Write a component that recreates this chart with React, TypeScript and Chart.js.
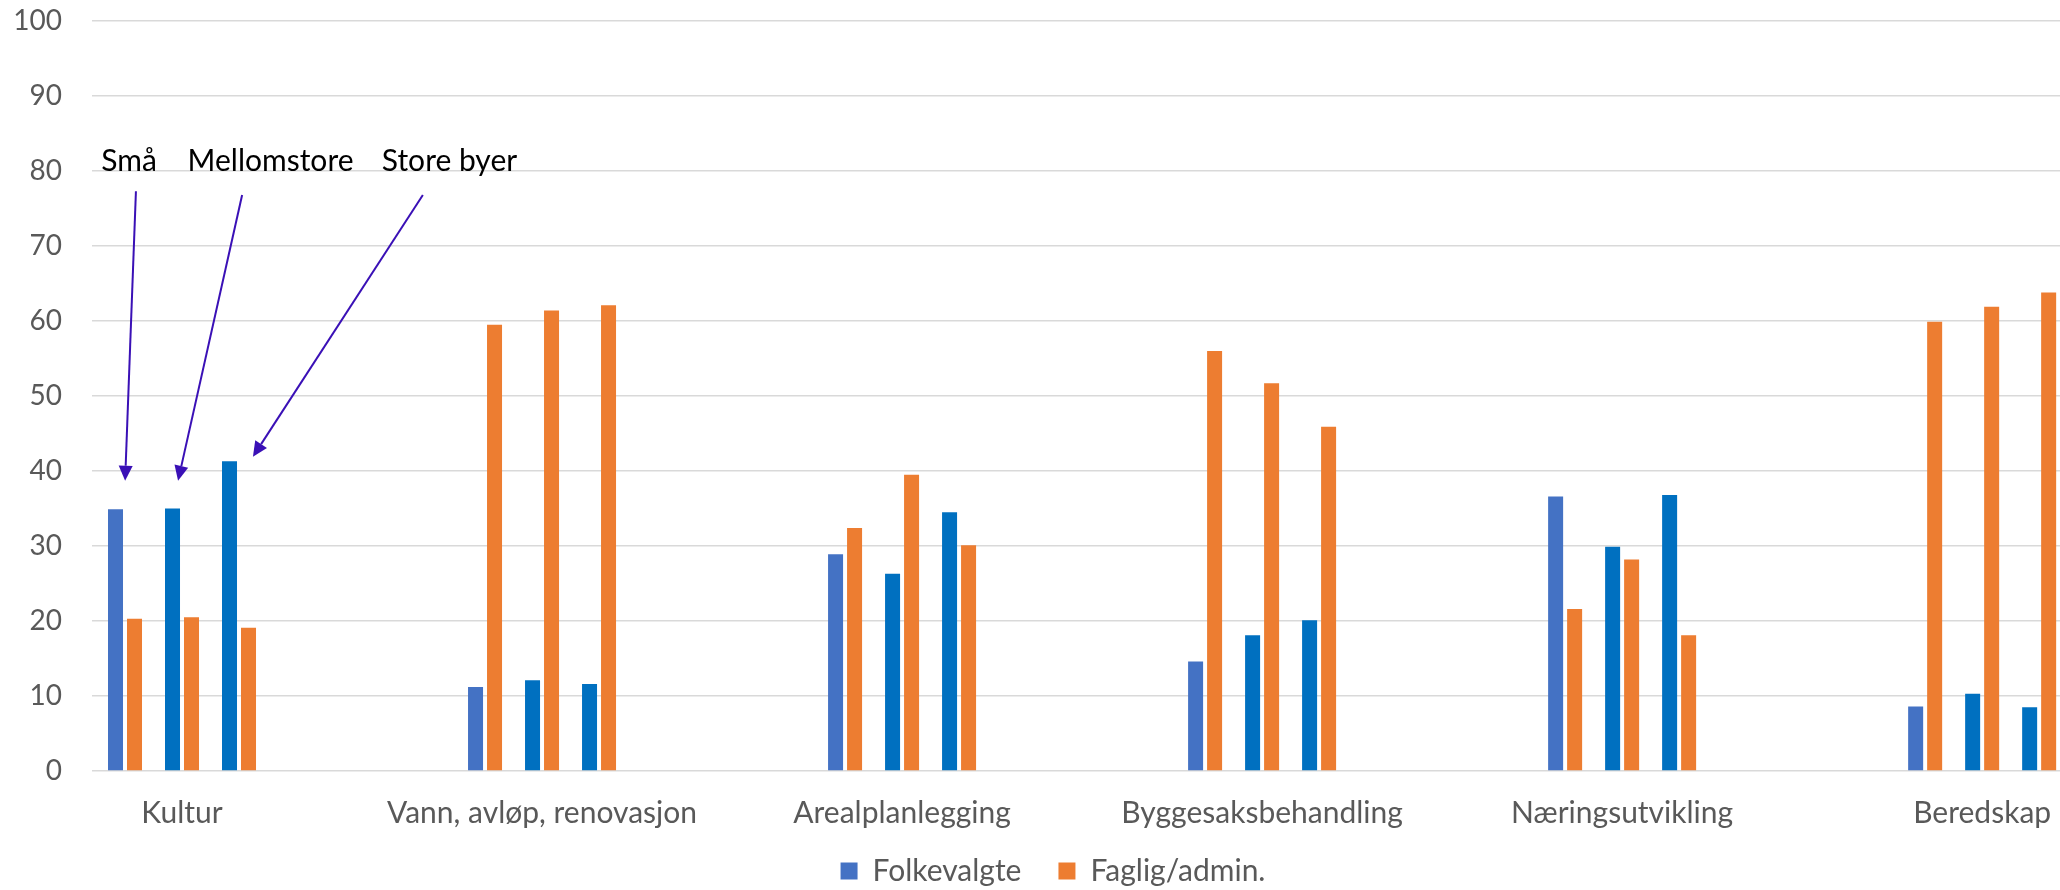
import React, { useEffect, useRef } from 'react';
import { Chart, registerables } from 'chart.js';

Chart.register(...registerables);

// ---- Data ----
const categories = [
  'Kultur',
  'Vann, avløp, renovasjon',
  'Arealplanlegging',
  'Byggesaksbehandling',
  'Næringsutvikling',
  'Beredskap',
];
const smaFolkevalgte = [34.9, 11.2, 28.9, 14.6, 36.6, 8.6];
const smaFaglig = [20.3, 59.5, 32.4, 56.0, 21.6, 59.9];
const mellomFolkevalgte = [35.0, 12.1, 26.3, 18.1, 29.9, 10.3];
const mellomFaglig = [20.5, 61.4, 39.5, 51.7, 28.2, 61.9];
const storeFolkevalgte = [41.3, 11.6, 34.5, 20.1, 36.8, 8.5];
const storeFaglig = [19.1, 62.1, 30.1, 45.9, 18.1, 63.8];
const legendLabels = ['Folkevalgte', 'Faglig/admin.'];
const groupLabels = ['Små', 'Mellomstore', 'Store byer'];

// Annotation anchors in data units (x: category index, y: value)
const annotationTextX = [-0.147, 0.246, 0.743];
const annotationTextY = 80;
const arrowStartX = [-0.128, 0.167, 0.669];
const arrowStartY = [77.3, 76.8, 76.8];
const arrowEndX = [-0.158, -0.011, 0.197];
const arrowEndY = [38.7, 38.7, 41.9];

const BLUE_SMALL = '#4472C4';
const BLUE = '#0070C0';
const ORANGE = '#ED7D31';
const ARROW = '#3A10B6';
const TEXT = '#595959';
const FONT = 'Lato';

const annotationPlugin = {
  id: 'cityAnnotations',
  afterLayout(chart: any) {
    // let the category labels (with descenders) render below the axis box
    const xs = chart.scales.x;
    xs.bottom = xs.bottom + 30;
  },
  afterDatasetsDraw(chart: any) {
    const { ctx } = chart;
    const x = chart.scales.x;
    const y = chart.scales.y;
    ctx.save();
    ctx.font = `30px ${FONT}`;
    ctx.fillStyle = '#000000';
    ctx.textAlign = 'center';
    ctx.textBaseline = 'alphabetic';
    groupLabels.forEach((t, i) => {
      ctx.fillText(t, x.getPixelForValue(annotationTextX[i]), y.getPixelForValue(annotationTextY));
    });
    ctx.strokeStyle = ARROW;
    ctx.fillStyle = ARROW;
    ctx.lineWidth = 2;
    for (let i = 0; i < groupLabels.length; i++) {
      const sx = x.getPixelForValue(arrowStartX[i]);
      const sy = y.getPixelForValue(arrowStartY[i]);
      const ex = x.getPixelForValue(arrowEndX[i]);
      const ey = y.getPixelForValue(arrowEndY[i]);
      const a = Math.atan2(ey - sy, ex - sx);
      const headLen = 15;
      const hw = 7;
      const bx = ex - Math.cos(a) * headLen;
      const by = ey - Math.sin(a) * headLen;
      ctx.beginPath();
      ctx.moveTo(sx, sy);
      ctx.lineTo(bx, by);
      ctx.stroke();
      ctx.beginPath();
      ctx.moveTo(ex, ey);
      ctx.lineTo(bx + Math.sin(a) * hw, by - Math.cos(a) * hw);
      ctx.lineTo(bx - Math.sin(a) * hw, by + Math.cos(a) * hw);
      ctx.closePath();
      ctx.fill();
    }
    ctx.restore();
  },
};

export default function App() {
  const ref = useRef<HTMLCanvasElement>(null);
  useEffect(() => {
    const toPts = (arr: number[]) => arr.map((v, i) => ({ x: i, y: v }));
    const datasets: any[] = [
      { label: legendLabels[0], data: toPts(smaFolkevalgte), backgroundColor: BLUE_SMALL },
      { label: legendLabels[1], data: toPts(smaFaglig), backgroundColor: ORANGE },
      { label: 'spacer-1', data: [], backgroundColor: 'rgba(0,0,0,0)' },
      { label: legendLabels[0] + ' (Mellomstore)', data: toPts(mellomFolkevalgte), backgroundColor: BLUE },
      { label: legendLabels[1] + ' (Mellomstore)', data: toPts(mellomFaglig), backgroundColor: ORANGE },
      { label: 'spacer-2', data: [], backgroundColor: 'rgba(0,0,0,0)' },
      { label: legendLabels[0] + ' (Store byer)', data: toPts(storeFolkevalgte), backgroundColor: BLUE },
      { label: legendLabels[1] + ' (Store byer)', data: toPts(storeFaglig), backgroundColor: ORANGE },
    ];
    const chart = new Chart(ref.current as HTMLCanvasElement, {
      type: 'bar',
      data: { datasets },
      options: {
        animation: false,
        responsive: false,
        devicePixelRatio: 1,
        layout: { padding: 0 },
        datasets: {
          bar: { categoryPercentage: 0.4222, barPercentage: 0.79, borderWidth: 0 },
        },
        scales: {
          x: {
            type: 'linear',
            bounds: 'data',
            offset: false,
            min: -0.25,
            max: 5.344,
            grid: { display: false, offset: false },
            border: { display: false },
            afterBuildTicks: (s: any) => {
              s.ticks = categories.map((_, i) => ({ value: i }));
            },
            ticks: {
              autoSkip: false,
              maxRotation: 0,
              minRotation: 0,
              padding: 16,
              color: TEXT,
              font: { family: FONT, size: 30 },
              callback: (v: any) => {
                const i = Math.round(Number(v));
                return categories[i] ?? '';
              },
            },
            afterFit: (s: any) => {
              s.height = 48;
            },
          },
          y: {
            min: 0,
            max: 100,
            ticks: {
              stepSize: 10,
              padding: 0,
              color: TEXT,
              font: { family: FONT, size: 28, lineHeight: 1.5 },
            },
            grid: {
              color: '#D9D9D9',
              lineWidth: 1.5,
              drawTicks: true,
              tickLength: 30,
              tickColor: 'rgba(0,0,0,0)',
            },
            border: { display: false },
            afterFit: (s: any) => {
              s.width = 92;
            },
          },
        } as any,
        plugins: {
          legend: {
            position: 'bottom',
            labels: {
              boxWidth: 17,
              boxHeight: 17,
              padding: 37,
              color: TEXT,
              font: { family: FONT, size: 30 },
              filter: (item: any) => item.datasetIndex < 2,
            },
          },
          tooltip: { enabled: false },
        },
      },
      plugins: [annotationPlugin],
    });
    return () => chart.destroy();
  }, []);
  return (
    <div
      style={{
        position: 'fixed',
        left: 0,
        top: 0,
        width: 2060,
        height: 890,
        overflow: 'hidden',
        background: '#ffffff',
      }}
    >
      <canvas ref={ref} width={2106} height={896} style={{ display: 'block' }} />
    </div>
  );
}
